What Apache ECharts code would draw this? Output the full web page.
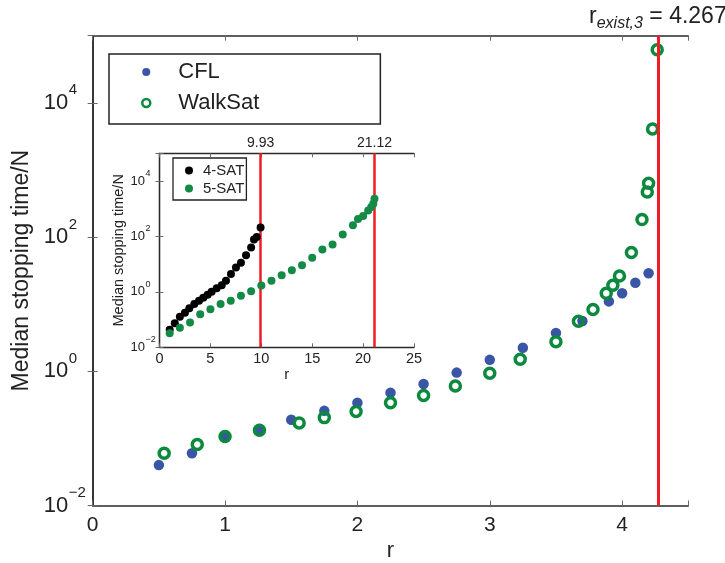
<!DOCTYPE html>
<html><head><meta charset="utf-8">
<script src="https://cdn.jsdelivr.net/npm/echarts@6/dist/echarts.min.js"></script>
<style>html,body{margin:0;padding:0;background:#fff}#c{width:725px;height:563px}</style>
</head><body><div id="c"></div>
<script>
// Main plot: 3-SAT (r, median stopping time / N)
const cflR = [0.5, 0.75, 1.0, 1.26, 1.5, 1.75, 2.0, 2.25, 2.5, 2.75, 3.0, 3.25, 3.5, 3.7, 3.9, 4.0, 4.1, 4.2];
const cflT = [0.040, 0.060, 0.107, 0.138, 0.19, 0.257, 0.339, 0.479, 0.646, 0.955, 1.48, 2.24, 3.72, 5.62, 11.0, 14.5, 20.9, 28.8];
const walkR = [0.54, 0.79, 1.0, 1.26, 1.56, 1.75, 1.99, 2.25, 2.5, 2.74, 3.0, 3.23, 3.5, 3.67, 3.78, 3.88, 3.93, 3.98, 4.07, 4.15, 4.19, 4.2, 4.23, 4.265];
const walkT = [0.060, 0.081, 0.107, 0.132, 0.170, 0.204, 0.251, 0.339, 0.437, 0.603, 0.933, 1.51, 2.75, 5.56, 8.32, 14.5, 19.1, 26.3, 58.9, 182, 468, 631, 4074, 61660];
// Inset: 4-SAT and 5-SAT
const sat4R = [1.0, 1.5, 2.0, 2.5, 2.93, 3.42, 3.88, 4.3, 4.73, 5.12, 5.62, 6.11, 6.53, 7.02, 7.51, 8.0, 8.5, 9.0, 9.28, 9.55, 9.93];
const sat4T = [0.043, 0.074, 0.126, 0.178, 0.257, 0.363, 0.479, 0.617, 0.794, 1.0, 1.35, 1.74, 2.51, 4.37, 7.59, 11.2, 20.9, 39.8, 77.6, 95.5, 209];
const sat5R = [1, 2, 3, 4, 5, 6, 7, 8, 9, 10, 11, 12, 13, 14, 15, 16, 17, 18, 19, 19.5, 20, 20.5, 20.8, 21, 21.12];
const sat5T = [0.032, 0.051, 0.079, 0.155, 0.234, 0.363, 0.479, 0.724, 1.05, 1.70, 2.51, 3.98, 6.03, 9.12, 17.0, 33.9, 51.3, 117, 251, 427, 550, 871, 1148, 1514, 2291];
// Thresholds
const rExist3 = 4.267;
const rExist4 = 9.93;
const rExist5 = 21.12;
// Axis ticks
const mainXTicks = [0, 1, 2, 3, 4];
const insetXTicks = [0, 5, 10, 15, 20, 25];
const logExpLabels = [-2, 0, 2, 4];

const zip = (a, b) => a.map((v, i) => [v, b[i]]);
const FONT = "'Liberation Sans', Arial, Helvetica, sans-serif";
const BLUE = '#3a55a6', GREEN = '#0b8a3e', GREEN2 = '#138a46', RED = '#ee1d25';
const AX = '#2a2a2a', TICK = '#6a6a6a', TXT = '#222';

function logFmt(v) {
  const e = Math.round(Math.log10(v));
  if (logExpLabels.indexOf(e) < 0) return '';
  return '{b|10}{s|' + (e < 0 ? '\u2212' + (-e) : e) + '}';
}
function xFmt(v) { return mainXTicks.indexOf(v) >= 0 ? String(v) : ''; }
function xFmt2(v) { return insetXTicks.indexOf(v) >= 0 ? String(v) : ''; }

const axisLine = { show: true, lineStyle: { color: AX, width: 1.5 } };
const tick = { show: true, inside: true, length: 5, lineStyle: { color: TICK, width: 1 } };
const tickS = { show: true, inside: true, length: 4, lineStyle: { color: TICK, width: 1 } };

const option = {
  animation: false,
  backgroundColor: '#fff',
  textStyle: { fontFamily: FONT },
  grid: [
    { left: 92.7, top: 35.7, right: 36.7, bottom: 57.5, containLabel: false, outerBoundsMode: 'none' },
    { left: 159.5, top: 153.3, width: 254.5, height: 194, containLabel: false, outerBoundsMode: 'none',
      show: true, backgroundColor: '#fff', borderWidth: 0 }
  ],
  xAxis: [
    { type: 'value', gridIndex: 0, min: 0, max: 4.5, interval: 1, position: 'bottom',
      axisLine, axisTick: tick, splitLine: { show: false },
      axisLabel: { formatter: xFmt, fontSize: 21, color: TXT, margin: 9, fontFamily: FONT },
      name: 'r', nameLocation: 'middle', nameGap: 33, nameTextStyle: { fontSize: 22, color: TXT, fontFamily: FONT } },
    { type: 'value', gridIndex: 0, min: 0, max: 4.5, interval: 1, position: 'top',
      axisLine, axisTick: tick, splitLine: { show: false }, axisLabel: { show: false } },
    { type: 'value', gridIndex: 1, min: 0, max: 25, interval: 5, position: 'bottom',
      axisLine: { show: true, lineStyle: { color: AX, width: 1.3 } }, axisTick: tickS, splitLine: { show: false },
      axisLabel: { formatter: xFmt2, fontSize: 14.5, color: TXT, margin: 4, fontFamily: FONT },
      name: 'r', nameLocation: 'middle', nameGap: 18, nameTextStyle: { fontSize: 15, color: TXT, fontFamily: FONT } },
    { type: 'value', gridIndex: 1, min: 0, max: 25, interval: 5, position: 'top',
      axisLine: { show: true, lineStyle: { color: AX, width: 1.3 } }, axisTick: tickS, splitLine: { show: false }, axisLabel: { show: false } }
  ],
  yAxis: [
    { type: 'log', logBase: 10, gridIndex: 0, min: 0.01, max: 100000, interval: 2, position: 'left',
      axisLine, axisTick: tick, splitLine: { show: false }, minorTick: { show: false },
      axisLabel: { formatter: logFmt, margin: 3, align: 'right',
        rich: { b: { fontSize: 22, width: 25, lineHeight: 40, align: 'left', color: TXT, fontFamily: FONT },
                s: { fontSize: 15, width: 21, lineHeight: 15, verticalAlign: 'top', align: 'left', color: TXT, fontFamily: FONT } } },
      name: 'Median stopping time/N', nameLocation: 'middle', nameGap: 59,
      nameTextStyle: { fontSize: 23, color: TXT, fontFamily: FONT } },
    { type: 'log', logBase: 10, gridIndex: 0, min: 0.01, max: 100000, interval: 2, position: 'right',
      axisLine, axisTick: tick, splitLine: { show: false }, axisLabel: { show: false } },
    { type: 'log', logBase: 10, gridIndex: 1, min: 0.01, max: 100000, interval: 2, position: 'left',
      axisLine: { show: true, lineStyle: { color: AX, width: 1.3 } }, axisTick: tickS, splitLine: { show: false },
      axisLabel: { formatter: logFmt, margin: 3, align: 'right',
        rich: { b: { fontSize: 13, width: 15, lineHeight: 24, align: 'left', color: TXT, fontFamily: FONT },
                s: { fontSize: 9, width: 11, lineHeight: 9, verticalAlign: 'top', align: 'left', color: TXT, fontFamily: FONT } } },
      name: 'Median stopping time/N', nameLocation: 'middle', nameGap: 32,
      nameTextStyle: { fontSize: 14.5, color: TXT, fontFamily: FONT } },
    { type: 'log', logBase: 10, gridIndex: 1, min: 0.01, max: 100000, interval: 2, position: 'right',
      axisLine: { show: true, lineStyle: { color: AX, width: 1.3 } }, axisTick: tickS, splitLine: { show: false }, axisLabel: { show: false } }
  ],
  legend: [
    { data: [{ name: 'CFL', icon: 'circle' }, { name: 'WalkSat', icon: 'circle', itemStyle: { borderWidth: 2.5 } }],
      orient: 'vertical', left: 109, top: 54, itemWidth: 54, itemHeight: 8, itemGap: 9,
      padding: [7, 121, 10, 32], borderColor: '#222', borderWidth: 1.5, backgroundColor: '#fff',
      selectedMode: false, textStyle: { fontSize: 22, color: TXT, fontFamily: FONT } },
    { data: ['4-SAT', '5-SAT'], orient: 'vertical', left: 173, top: 158, itemWidth: 18, itemHeight: 8, itemGap: 3,
      padding: [5, 2, 4, 12], borderColor: '#222', borderWidth: 1.3, backgroundColor: '#fff',
      selectedMode: false, textStyle: { fontSize: 15, color: TXT, fontFamily: FONT } }
  ],
  series: [
    { name: 'CFL', type: 'scatter', xAxisIndex: 0, yAxisIndex: 0, symbol: 'circle', symbolSize: 10.5,
      itemStyle: { color: BLUE, opacity: 1 }, silent: true, z: 2, data: zip(cflR, cflT) },
    { name: 'WalkSat', type: 'scatter', xAxisIndex: 0, yAxisIndex: 0, symbol: 'circle', symbolSize: 10,
      itemStyle: { color: 'rgba(255,255,255,0)', borderColor: GREEN, borderWidth: 3.5, opacity: 1 }, silent: true, z: 3,
      data: zip(walkR, walkT),
      markLine: { silent: true, symbol: ['none', 'none'], animation: false,
        lineStyle: { color: RED, width: 3, type: 'solid', opacity: 1 },
        label: { show: true, position: 'end', distance: 4, color: TXT,
          formatter: '{r|r}{sub|exist,3}{r| = 4.267}',
          rich: { r: { fontSize: 23, lineHeight: 30, color: TXT, fontFamily: FONT },
                  sub: { fontSize: 16, fontStyle: 'italic', lineHeight: 16, verticalAlign: 'bottom', color: TXT, fontFamily: FONT } } },
        emphasis: { disabled: true },
        data: [{ xAxis: rExist3 }] } },
    { name: '4-SAT', type: 'scatter', xAxisIndex: 2, yAxisIndex: 2, symbol: 'circle', symbolSize: 8,
      itemStyle: { color: '#000', opacity: 1 }, silent: true, z: 5, data: zip(sat4R, sat4T),
      markLine: { silent: true, symbol: ['none', 'none'], animation: false,
        lineStyle: { color: RED, width: 2.5, type: 'solid', opacity: 1 },
        label: { show: true, position: 'end', distance: 3, fontSize: 14, color: TXT, fontFamily: FONT, formatter: String(rExist4) },
        emphasis: { disabled: true }, data: [{ xAxis: rExist4 }] } },
    { name: '5-SAT', type: 'scatter', xAxisIndex: 2, yAxisIndex: 2, symbol: 'circle', symbolSize: 8,
      itemStyle: { color: GREEN2, opacity: 1 }, silent: true, z: 5, data: zip(sat5R, sat5T),
      markLine: { silent: true, symbol: ['none', 'none'], animation: false,
        lineStyle: { color: RED, width: 2.5, type: 'solid', opacity: 1 },
        label: { show: true, position: 'end', distance: 3, fontSize: 14, color: TXT, fontFamily: FONT, formatter: String(rExist5) },
        emphasis: { disabled: true }, data: [{ xAxis: rExist5 }] } }
  ]
};
const chart = echarts.init(document.getElementById('c'));
chart.setOption(option);
</script>
</body></html>
